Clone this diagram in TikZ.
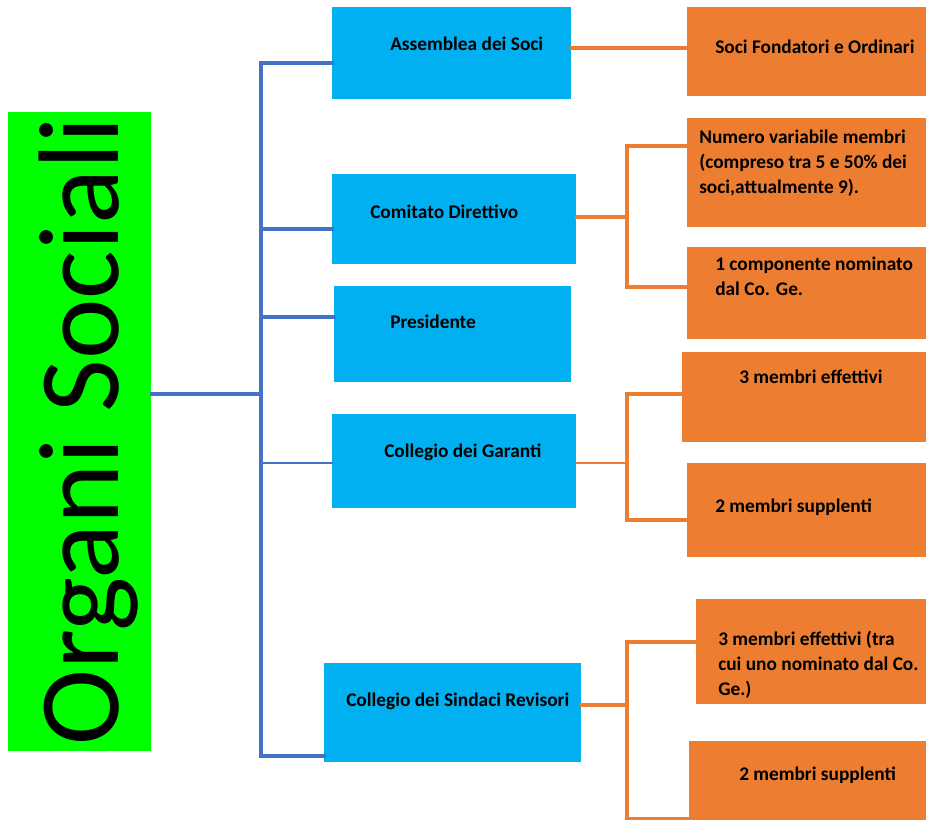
\documentclass[tikz,border=0pt]{standalone}
\usepackage{fontspec}
\setmainfont{Carlito}
\usepackage{tikz}
\definecolor{boxblue}{HTML}{00B0F0}
\definecolor{boxorange}{HTML}{ED7D31}
\definecolor{boxgreen}{HTML}{00FF00}
\definecolor{lineblue}{HTML}{4472C4}

\begin{document}
\begin{tikzpicture}[x=0.75pt, y=-0.75pt, line cap=rect]
 \tikzstyle{box} = [anchor=north west, inner sep=0pt, draw=none]
 \tikzstyle{blu} = [box, fill=boxblue]
 \tikzstyle{ora} = [box, fill=boxorange]
 \tikzstyle{lbl} = [anchor=base west, inner sep=0pt, font=\bfseries\fontsize{14.5}{18.75}\selectfont, align=left]
 \tikzstyle{bline} = [draw=lineblue, line width=2.3pt]
 \tikzstyle{oline} = [draw=boxorange, line width=2.3pt]
 \useasboundingbox (0,0) rectangle (926,820);

 % left block
 \node[box, fill=boxgreen, minimum width=143*0.75pt, minimum height=639*0.75pt] (OS) at (8,112) {};
 \node[rotate=90, anchor=base, inner sep=0pt, font=\fontsize{86}{100}\selectfont] (OSt) at (118,431) {Organi Sociali};

 % blue boxes
 \node[blu, minimum width=239*0.75pt, minimum height=92*0.75pt] (AS) at (332,7) {};
 \node[blu, minimum width=244*0.75pt, minimum height=90*0.75pt] (CD) at (332,174) {};
 \node[blu, minimum width=237*0.75pt, minimum height=96*0.75pt] (PR) at (334,286) {};
 \node[blu, minimum width=244*0.75pt, minimum height=94*0.75pt] (CG) at (332,414) {};
 \node[blu, minimum width=257*0.75pt, minimum height=99*0.75pt] (CS) at (324,663) {};
 \node[lbl] (ASt) at (390,51) {Assemblea dei Soci};
 \node[lbl] (CDt) at (370,219) {Comitato Direttivo};
 \node[lbl] (PRt) at (390,329) {Presidente};
 \node[lbl] (CGt) at (384,457) {Collegio dei Garanti};
 \node[lbl] (CSt) at (346,706) {Collegio dei Sindaci Revisori};

 % orange boxes
 \node[ora, minimum width=239*0.75pt, minimum height=89*0.75pt] (SF) at (687,7) {};
 \node[ora, minimum width=239*0.75pt, minimum height=109*0.75pt] (NV) at (687,118) {};
 \node[ora, minimum width=239*0.75pt, minimum height=92*0.75pt] (CN) at (687,247) {};
 \node[ora, minimum width=244*0.75pt, minimum height=90*0.75pt] (ME) at (682,352) {};
 \node[ora, minimum width=239*0.75pt, minimum height=94*0.75pt] (MS) at (687,463) {};
 \node[ora, minimum width=230*0.75pt, minimum height=105*0.75pt] (RE) at (696,599) {};
 \node[ora, minimum width=237*0.75pt, minimum height=79*0.75pt] (RS) at (689,741) {};
 % multi-line labels sit on their last line
 \node[lbl] (SFt) at (715,54) {Soci Fondatori e Ordinari};
 \node[lbl] (NVt) at (699,194) {Numero variabile membri\\(compreso tra 5 e 50\% dei\\soci,attualmente 9).};
 \node[lbl] (CNt) at (715,296) {1 componente nominato\\dal Co. Ge.};
 \node[lbl] (MEt) at (739,383) {3 membri effettivi};
 \node[lbl] (MSt) at (715,512) {2 membri supplenti};
 \node[lbl] (REt) at (718,695) {3 membri effettivi (tra\\cui uno nominato dal Co.\\Ge.)};
 \node[lbl] (RSt) at (739,780) {2 membri supplenti};

 % blue tree
 \coordinate (Ttop) at (261,63);
 \coordinate (Tmid) at (261,394);
 \coordinate (Tbot) at (261,756);
 \draw[bline] (OS.east |- Tmid) -- (Tmid);
 \draw[bline] (AS.west |- Ttop) -- (Ttop) -- (Tbot) -- (CS.west |- Tbot);
 \draw[bline] (Ttop |- 0,229) -- (CD.west |- 0,229);
 \draw[bline] (Ttop |- 0,317) -- (PR.west |- 0,317);
 \draw[bline, line width=1.1pt] (Ttop |- 0,463) -- (CG.west |- 0,463);

 % orange branches
 \draw[oline] (AS.east |- 0,48) -- (SF.west |- 0,48);
 \draw[oline] (CD.east |- 0,217) -- (627,217);
 \draw[oline] (NV.west |- 0,146) -- (627,146) -- (627,287) -- (CN.west |- 0,287);
 \draw[oline, line width=1.1pt] (CG.east |- 0,463) -- (627,463);
 \draw[oline] (ME.west |- 0,394) -- (627,394) -- (627,520) -- (MS.west |- 0,520);
 \draw[oline] (CS.east |- 0,705) -- (627,705);
 \draw[oline] (RE.west |- 0,642) -- (627,642) -- (627,819) -- (RS.west |- 0,819);
\end{tikzpicture}
\end{document}
